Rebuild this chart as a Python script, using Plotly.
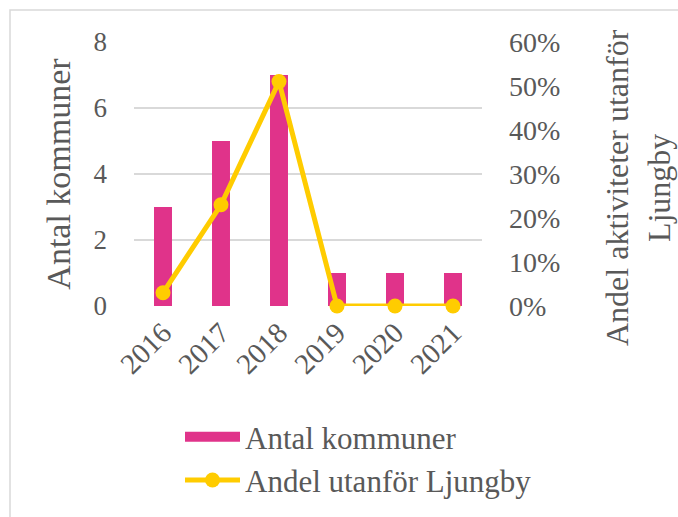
import plotly.graph_objects as go

# ─── Data ────────────────────────────────────────────────────────────────────

AR = ["2016", "2017", "2018", "2019", "2020", "2021"]
ANTAL_KOMMUNER = [3, 5, 7, 1, 1, 1]
ANDEL_UTANFOR = [0.03, 0.23, 0.51, 0.0, 0.0, 0.0]

Y1_TICKS = [0, 2, 4, 6, 8]
Y2_TICKS = [0, 0.1, 0.2, 0.3, 0.4, 0.5, 0.6]

# ─── Stil ────────────────────────────────────────────────────────────────────

FARG_STAPEL = "#E0338A"
FARG_LINJE = "#FFCC00"
FARG_TEXT = "#595959"
FARG_GRID = "#D9D9D9"
FONT = "Liberation Serif, DejaVu Serif, serif"

W, H = 678, 517
L, R, T, B = 134, 196, 42, 211
pw, ph = W - L - R, H - T - B


def px_x(p):
    return (p - L) / pw


def px_y(p):
    return 1 - (p - T) / ph


fig = go.Figure()

fig.add_trace(
    go.Bar(
        x=AR,
        y=ANTAL_KOMMUNER,
        name="Antal kommuner",
        marker=dict(color=FARG_STAPEL, line=dict(width=0)),
        width=0.31,
        showlegend=False,
    )
)

# legendsymbol för staplarna (bred rektangel som i Excel)
fig.add_trace(
    go.Scatter(
        x=[None],
        y=[None],
        name="Antal kommuner",
        mode="lines",
        line=dict(color=FARG_STAPEL, width=17),
    )
)

fig.add_trace(
    go.Scatter(
        x=AR,
        y=ANDEL_UTANFOR,
        name="Andel utanför Ljungby",
        yaxis="y2",
        mode="lines+markers",
        line=dict(color=FARG_LINJE, width=5),
        marker=dict(color=FARG_LINJE, size=15),
        cliponaxis=False,
    )
)

fig.update_layout(
    template="none",
    width=W,
    height=H,
    margin=dict(l=L, r=R, t=T, b=B, autoexpand=False),
    paper_bgcolor="white",
    plot_bgcolor="white",
    font=dict(family=FONT, size=27, color=FARG_TEXT),
    showlegend=True,
    xaxis=dict(
        automargin=False,
        type="category",
        tickmode="array",
        tickvals=AR,
        ticktext=AR,
        tickangle=-45,
        tickfont=dict(size=29),
        showgrid=False,
        showline=False,
        zeroline=False,
        ticks="",
        ticklabelstandoff=3,
    ),
    yaxis=dict(
        automargin=False,
        range=[0, 8],
        tickvals=Y1_TICKS,
        showgrid=True,
        gridcolor=FARG_GRID,
        gridwidth=1.5,
        zeroline=False,
        showline=False,
        ticks="",
        ticklabelstandoff=26,
        tickfont=dict(size=27),
        title=dict(text="Antal kommuner", font=dict(size=34), standoff=12),
    ),
    yaxis2=dict(
        automargin=False,
        range=[0, 0.6],
        tickvals=Y2_TICKS,
        tickformat=".0%",
        overlaying="y",
        side="right",
        showgrid=False,
        zeroline=False,
        showline=False,
        ticks="",
        ticklabelstandoff=26,
        tickfont=dict(size=28),
    ),
    annotations=[
        dict(
            text="Andel aktiviteter utanför<br>Ljungby",
            xref="paper",
            yref="paper",
            x=px_x(638),
            y=px_y(188),
            xanchor="center",
            yanchor="middle",
            textangle=-90,
            showarrow=False,
            align="center",
            font=dict(size=32, color=FARG_TEXT),
        )
    ],
    legend=dict(
        x=px_x(180),
        y=px_y(410),
        yanchor="top",
        xanchor="left",
        orientation="v",
        font=dict(size=31),
        bgcolor="rgba(0,0,0,0)",
        itemwidth=55,
    ),
    shapes=[
        dict(
            type="rect",
            xref="paper",
            yref="paper",
            x0=px_x(10),
            x1=px_x(W + 20),
            y0=px_y(H + 20),
            y1=px_y(10),
            line=dict(color=FARG_GRID, width=1.5),
            fillcolor="rgba(0,0,0,0)",
            layer="below",
        )
    ],
)

fig.write_html(
    "out.html",
    config={"displayModeBar": False},
    post_script="document.body.style.margin='0px';",
)
